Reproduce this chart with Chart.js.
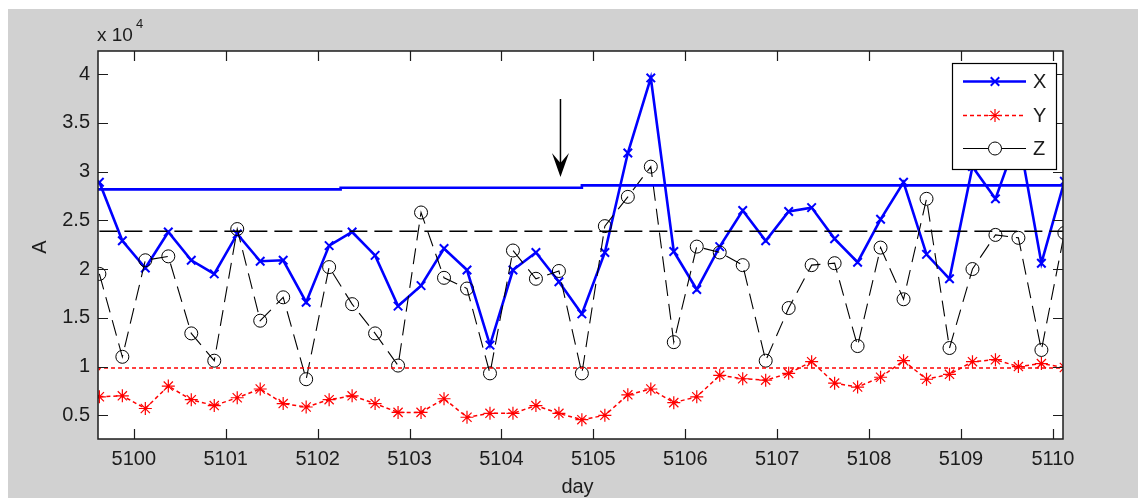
<!DOCTYPE html>
<html>
<head>
<meta charset="utf-8">
<title>A by day</title>
<script src="https://cdn.jsdelivr.net/npm/chart.js@4.4.1/dist/chart.umd.min.js"></script>
<style>
  html, body { margin: 0; padding: 0; background: #fff; }
  #wrap { width: 1138px; height: 498px; }
</style>
</head>
<body>
<div id="wrap"><canvas id="chart" width="1138" height="498"></canvas></div>
<script>
// sample times (quarter days)
const days = [
  5099.625, 5099.875, 5100.125, 5100.375, 5100.625, 5100.875,
  5101.125, 5101.375, 5101.625, 5101.875, 5102.125, 5102.375,
  5102.625, 5102.875, 5103.125, 5103.375, 5103.625, 5103.875,
  5104.125, 5104.375, 5104.625, 5104.875, 5105.125, 5105.375,
  5105.625, 5105.875, 5106.125, 5106.375, 5106.625, 5106.875,
  5107.125, 5107.375, 5107.625, 5107.875, 5108.125, 5108.375,
  5108.625, 5108.875, 5109.125, 5109.375, 5109.625, 5109.875,
  5110.125
];

const xVals = [
  28900, 22900, 20100, 23800, 20900, 19500, 23600, 20800, 20900, 16600,
  22400, 23800, 21400, 16200, 18300, 22100, 19900, 12200, 19900, 21700,
  18700, 15400, 21700, 31900, 39600, 21800, 17900, 22300, 26000, 22900,
  25900, 26300, 23100, 20700, 25100, 28900, 21500, 19000, 30500, 27200,
  33800, 20600, 29000
];

const yVals = [
  6900, 7000, 5700, 8000, 6600, 6000, 6800, 7700, 6200, 5850,
  6600, 7000, 6200, 5300, 5300, 6700, 4800, 5200, 5200, 6000,
  5200, 4550, 5000, 7100, 7700, 6300, 6900, 9100, 8750, 8600,
  9300, 10500, 8300, 7900, 8900, 10600, 8700, 9200, 10500, 10700,
  10000, 10300, 9900
];

const zVals = [
  19500, 11000, 20900, 21300, 13400, 10600, 24100, 14700, 17100, 8700,
  20200, 16400, 13400, 10100, 25800, 19100, 18000, 9300, 21900, 19000,
  19800, 9300, 24400, 27400, 30500, 12500, 22300, 21700, 20400, 10600,
  16000, 20400, 20600, 12100, 22200, 16900, 27200, 11900, 20000, 23500,
  23200, 11700, 23700
];

// running means, drawn as steps
const xMeanDays = [5099.625, 5102.25, 5104.875, 5107.5, 5110.125];
const xMeanVals = [28020, 28170, 28330, 28580, 28580];
const yMeanDays = [5099.625, 5104.875, 5110.125];
const yMeanVals = [9610, 9850, 9850];
const zMeanDays = [5099.625, 5110.125];
const zMeanVals = [23880, 23880];

const dayTicks = [5100, 5101, 5102, 5103, 5104, 5105, 5106, 5107, 5108, 5109, 5110];
const aTicks = [5000, 10000, 15000, 20000, 25000, 30000, 35000, 40000];

// arrow marker
const arrowDay = 5104.642;
const arrowFrom = 37440;
const arrowTo = 29440;

const FONT = "'Liberation Sans', Arial, sans-serif";
const INK = "#1c1c1c";

function pts(xs, ys) {
  return xs.map((d, i) => ({ x: d, y: ys[i] }));
}

const seriesX = {
  label: "X", data: pts(days, xVals), order: 6,
  borderColor: "#0000ff", borderWidth: 2.6,
  pointStyle: "crossRot", pointRadius: 6, pointBorderWidth: 2,
  pointBorderColor: "#0000ff", pointBackgroundColor: "#0000ff"
};
const seriesY = {
  label: "Y", data: pts(days, yVals), order: 5,
  borderColor: "#ff0000", borderWidth: 1.5, borderDash: [4, 3],
  pointStyle: "star", pointRadius: 6.5, pointBorderWidth: 1.2,
  pointBorderColor: "#ff0000", pointBackgroundColor: "#ff0000"
};
const seriesZ = {
  label: "Z", data: pts(days, zVals), order: 4,
  borderColor: "#000", borderWidth: 1.1, borderDash: [16, 8],
  pointStyle: "circle", pointRadius: 6.5, pointBorderWidth: 1,
  pointBorderColor: "#000", pointBackgroundColor: "rgba(0,0,0,0)"
};

const frame = {
  id: "frame",
  beforeDraw(chart) {
    const { ctx, chartArea: a } = chart;
    ctx.save();
    ctx.fillStyle = "#fff";
    ctx.fillRect(0, 0, chart.width, chart.height);
    ctx.fillStyle = "#d1d1d1";
    ctx.fillRect(8, 9, chart.width - 8, chart.height - 9);
    ctx.fillStyle = "#fff";
    ctx.fillRect(a.left, a.top, a.right - a.left, a.bottom - a.top);
    ctx.restore();
  },
  afterDatasetsDraw(chart) {
    const { ctx, chartArea: a, scales } = chart;
    const sx = scales.x, sy = scales.y;
    ctx.save();

    // box and inward ticks
    ctx.strokeStyle = INK;
    ctx.lineWidth = 1.5;
    ctx.strokeRect(a.left, a.top, a.right - a.left, a.bottom - a.top);
    ctx.lineWidth = 1.2;
    ctx.beginPath();
    dayTicks.forEach(v => {
      const px = Math.round(sx.getPixelForValue(v)) + 0.5;
      ctx.moveTo(px, a.bottom); ctx.lineTo(px, a.bottom - 10);
      ctx.moveTo(px, a.top); ctx.lineTo(px, a.top + 10);
    });
    aTicks.forEach(v => {
      const py = Math.round(sy.getPixelForValue(v)) + 0.5;
      ctx.moveTo(a.left, py); ctx.lineTo(a.left + 10, py);
      ctx.moveTo(a.right, py); ctx.lineTo(a.right - 10, py);
    });
    ctx.stroke();

    // arrow
    const ax = sx.getPixelForValue(arrowDay);
    const ay0 = sy.getPixelForValue(arrowFrom);
    const ay1 = sy.getPixelForValue(arrowTo);
    ctx.strokeStyle = "#000";
    ctx.fillStyle = "#000";
    ctx.lineWidth = 1.5;
    ctx.beginPath();
    ctx.moveTo(ax, ay0); ctx.lineTo(ax, ay1 - 12);
    ctx.stroke();
    ctx.beginPath();
    ctx.moveTo(ax, ay1);
    ctx.lineTo(ax - 8.5, ay1 - 24);
    ctx.lineTo(ax, ay1 - 14);
    ctx.lineTo(ax + 8.5, ay1 - 24);
    ctx.closePath();
    ctx.fill();

    // legend
    const lx = 952, ly = 63, lw = 104, lh = 106;
    ctx.fillStyle = "#fff";
    ctx.fillRect(lx, ly, lw, lh);
    ctx.strokeStyle = "#000";
    ctx.lineWidth = 1.2;
    ctx.strokeRect(lx + 0.5, ly + 0.5, lw, lh);
    const rows = [
      { ds: seriesX, y: 81.5, dash: [] },
      { ds: seriesY, y: 115.5, dash: [4, 3] },
      { ds: seriesZ, y: 148.5, dash: [] }
    ];
    ctx.font = "20px " + FONT;
    ctx.textBaseline = "middle";
    ctx.textAlign = "left";
    rows.forEach(r => {
      ctx.save();
      ctx.strokeStyle = r.ds.borderColor;
      ctx.lineWidth = r.ds.borderWidth;
      ctx.setLineDash(r.dash);
      ctx.beginPath();
      ctx.moveTo(963, r.y); ctx.lineTo(1026, r.y);
      ctx.stroke();
      ctx.restore();
      ctx.save();
      ctx.strokeStyle = r.ds.pointBorderColor;
      ctx.fillStyle = r.ds.pointStyle === "circle" ? "#fff" : r.ds.pointBackgroundColor;
      ctx.lineWidth = r.ds.pointBorderWidth;
      Chart.helpers.drawPoint(ctx, {
        pointStyle: r.ds.pointStyle, radius: r.ds.pointRadius,
        rotation: 0, borderWidth: r.ds.pointBorderWidth
      }, 995, r.y);
      ctx.restore();
      ctx.fillStyle = INK;
      ctx.fillText(r.ds.label, 1033, r.y + 1);
    });

    // axis titles and exponent
    ctx.fillStyle = INK;
    ctx.font = "19px " + FONT;
    ctx.textAlign = "left";
    ctx.textBaseline = "alphabetic";
    ctx.fillText("x 10", 97, 41);
    ctx.font = "13px " + FONT;
    ctx.fillText("4", 136, 28);

    ctx.font = "20px " + FONT;
    ctx.textAlign = "center";
    ctx.fillText("day", (a.left + a.right) / 2 - 3, 493);

    ctx.translate(46, 247);
    ctx.rotate(-Math.PI / 2);
    ctx.textBaseline = "alphabetic";
    ctx.fillText("A", 0, 0);
    ctx.restore();
  }
};

new Chart(document.getElementById("chart"), {
  type: "line",
  data: {
    datasets: [
      seriesX,
      seriesY,
      seriesZ,
      {
        label: "X mean", data: pts(xMeanDays, xMeanVals), order: 3,
        stepped: "after", borderColor: "#0000ff", borderWidth: 2.6, pointRadius: 0
      },
      {
        label: "Y mean", data: pts(yMeanDays, yMeanVals), order: 2,
        stepped: "after", borderColor: "#ff0000", borderWidth: 1.5,
        borderDash: [4, 3], pointRadius: 0
      },
      {
        label: "Z mean", data: pts(zMeanDays, zMeanVals), order: 1,
        borderColor: "#000", borderWidth: 1.5, borderDash: [18, 7], pointRadius: 0
      }
    ]
  },
  options: {
    responsive: false,
    animation: false,
    devicePixelRatio: 1,
    layout: { padding: { left: 0, top: 51, right: 75, bottom: 0 } },
    scales: {
      x: {
        type: "linear",
        min: 5099.61,
        max: 5110.11,
        grid: { display: false, drawTicks: false },
        border: { display: false },
        afterFit: s => { s.height = 59; },
        afterBuildTicks: s => { s.ticks = dayTicks.map(v => ({ value: v })); },
        ticks: {
          callback: v => String(v),
          color: INK,
          font: { family: FONT, size: 20 },
          padding: 8,
          maxRotation: 0,
          autoSkip: false
        }
      },
      y: {
        type: "linear",
        min: 2570,
        max: 42360,
        grid: { display: false, drawTicks: false },
        border: { display: false },
        afterFit: s => { s.width = 98; },
        afterBuildTicks: s => { s.ticks = aTicks.map(v => ({ value: v })); },
        ticks: {
          callback: v => String(v / 10000),
          color: INK,
          font: { family: FONT, size: 20 },
          padding: 8
        }
      }
    },
    plugins: {
      legend: { display: false },
      tooltip: { enabled: false }
    }
  },
  plugins: [frame]
});
</script>
</body>
</html>
